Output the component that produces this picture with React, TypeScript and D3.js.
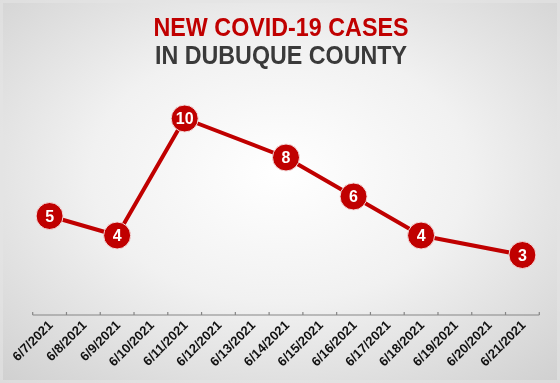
import React from "react";
import * as d3 from "d3";

const dates = [
  "6/7/2021", "6/8/2021", "6/9/2021", "6/10/2021", "6/11/2021",
  "6/12/2021", "6/13/2021", "6/14/2021", "6/15/2021", "6/16/2021",
  "6/17/2021", "6/18/2021", "6/19/2021", "6/20/2021", "6/21/2021",
];
const cases: (number | null)[] = [5, null, 4, null, 10, null, null, 8, null, 6, null, 4, null, null, 3];
const titleLine1 = "NEW COVID-19 CASES";
const titleLine2 = "IN DUBUQUE COUNTY";

const W = 560;
const H = 383;
const RED = "#C00000";

export default function App() {
  const x = d3.scaleBand<string>().domain(dates).range([32.7, 539.3]).padding(0);
  const y = d3.scaleLinear().domain([0, 10]).range([313.5, 118.5]);
  const pts = dates
    .map((d, i) => ({ d, v: cases[i] }))
    .filter((p) => p.v !== null) as { d: string; v: number }[];
  const cx = (d: string) => (x(d) as number) + x.bandwidth() / 2;
  const line = d3
    .line<{ d: string; v: number }>()
    .x((p) => cx(p.d))
    .y((p) => y(p.v));
  const axisY = 315;
  const tickXs = [...dates.map((d) => x(d) as number), x.range()[1]];

  return (
    <svg
      width={W}
      height={H}
      style={{ position: "fixed", left: 0, top: 0 }}
      fontFamily="Arial, 'Liberation Sans', sans-serif"
    >
      <defs>
        <radialGradient id="bg" cx="50%" cy="45%" r="75%">
          <stop offset="0%" stopColor="#ffffff" />
          <stop offset="45%" stopColor="#f1f1f1" />
          <stop offset="100%" stopColor="#cfcfcf" />
        </radialGradient>
      </defs>
      <rect x={0} y={0} width={W} height={H} fill="url(#bg)" />
      <rect x={1.5} y={1.5} width={W - 3} height={H - 3} fill="none" stroke="#e4e4e4" strokeWidth={3} opacity={0.6} />

      <text x={281} y={35.5} textAnchor="middle" fontSize={26} fontWeight="bold" fill={RED}
        textLength={255} lengthAdjust="spacingAndGlyphs">{titleLine1}</text>
      <text x={281} y={64} textAnchor="middle" fontSize={26} fontWeight="bold" fill="#3a3a3a"
        textLength={252} lengthAdjust="spacingAndGlyphs">{titleLine2}</text>

      <line x1={x.range()[0]} x2={x.range()[1]} y1={axisY} y2={axisY} stroke="#858585" strokeWidth={1.2} />
      {tickXs.map((t, i) => (
        <line key={i} x1={t} x2={t} y1={axisY} y2={axisY - 3} stroke="#858585" strokeWidth={1.2} />
      ))}
      {dates.map((d) => (
        <text
          key={d}
          transform={`translate(${cx(d) + 4},${axisY + 11}) rotate(-45)`}
          textAnchor="end"
          fontSize={13}
          fontWeight="bold"
          fill="#111"
        >
          {d}
        </text>
      ))}

      <path d={line(pts) || ""} fill="none" stroke={RED} strokeWidth={4} strokeLinejoin="round" />
      {pts.map((p) => (
        <g key={p.d} transform={`translate(${cx(p.d)},${y(p.v)})`}>
          <circle r={13.5} fill={RED} stroke="#f4dede" strokeWidth={1} />
          <text textAnchor="middle" dy="0.36em" fontSize={16} fontWeight="bold" fill="#fff">
            {p.v}
          </text>
        </g>
      ))}
    </svg>
  );
}
